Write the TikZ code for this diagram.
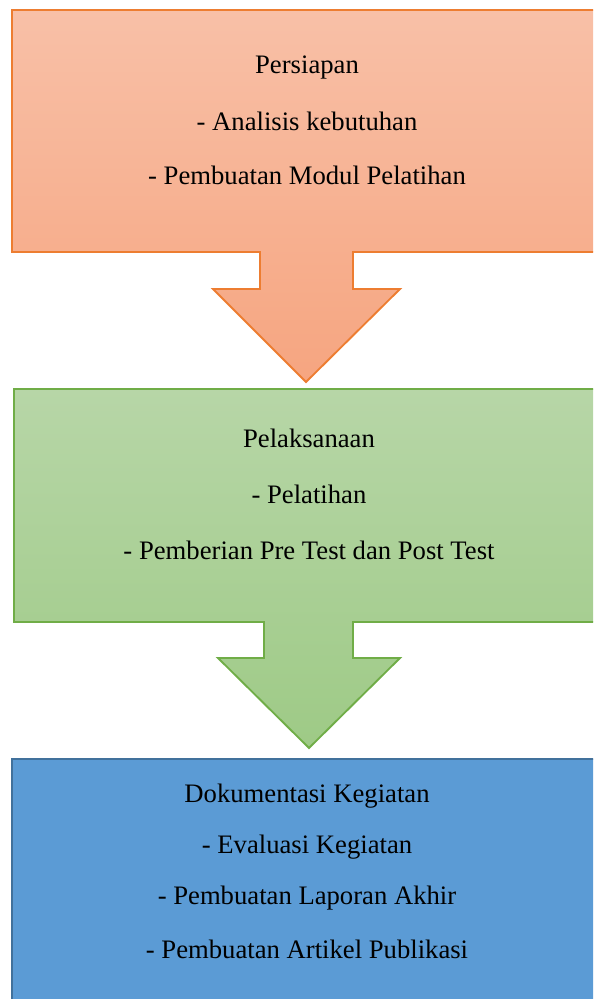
\documentclass[tikz,border=0pt]{standalone}
\usepackage{fontspec}
\setmainfont{Liberation Serif}
\definecolor{orTop}{RGB}{248,192,167}
\definecolor{orBot}{RGB}{246,165,128}
\definecolor{orLine}{RGB}{237,125,49}
\definecolor{grTop}{RGB}{183,214,167}
\definecolor{grBot}{RGB}{158,202,134}
\definecolor{grLine}{RGB}{112,173,71}
\definecolor{blFill}{RGB}{91,155,213}
\definecolor{blLine}{RGB}{65,113,156}
\tikzset{
  txt/.style={font=\fontsize{20}{23}\selectfont, text=black, inner sep=0pt, anchor=center},
  orbox/.style={top color=orTop, bottom color=orBot, draw=orLine, line width=1.4pt, line join=miter},
  grbox/.style={top color=grTop, bottom color=grBot, draw=grLine, line width=1.4pt, line join=miter},
  blbox/.style={fill=blFill, draw=blLine, line width=1.6pt, line join=miter}
}
\begin{document}
\begin{tikzpicture}[x=0.75pt,y=-0.75pt]
\useasboundingbox (0,0) rectangle (593,999);
\clip (0,0) rectangle (593,999);
% orange callout
\shade[orbox] (12,10) -- (602,10) -- (602,252) -- (353,252) -- (353,289) -- (400,289)
  -- (306,382) -- (213,289) -- (260,289) -- (260,252) -- (12,252) -- cycle;
% green callout
\shade[grbox] (14,389) -- (602,389) -- (602,622) -- (353,622) -- (353,658) -- (400,658)
  -- (309,748) -- (218,658) -- (264,658) -- (264,622) -- (14,622) -- cycle;
% blue box
\filldraw[blbox] (12,759) rectangle (602,1010);
% texts
\node[txt] (t1) at (307,68) {Persiapan};
\node[txt] (t2) at (307,121) {- Analisis kebutuhan};
\node[txt] (t3) at (307,175) {- Pembuatan Modul Pelatihan};
\node[txt] (t4) at (309,438) {Pelaksanaan};
\node[txt] (t5) at (309,494) {- Pelatihan};
\node[txt] (t6) at (309,550) {- Pemberian Pre Test dan Post Test};
\node[txt] (t7) at (307,796) {Dokumentasi Kegiatan};
\node[txt] (t8) at (307,847) {- Evaluasi Kegiatan};
\node[txt] (t9) at (307,898) {- Pembuatan Laporan Akhir};
\node[txt] (t10) at (307,949) {- Pembuatan Artikel Publikasi};
\end{tikzpicture}
\end{document}
